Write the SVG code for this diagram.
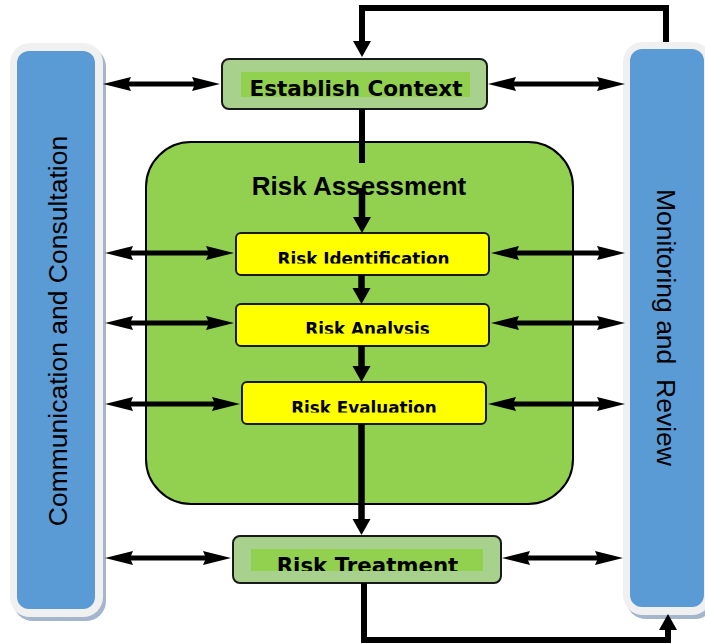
<svg xmlns="http://www.w3.org/2000/svg" width="705" height="644" viewBox="0 0 705 644">
<style>
.panelOuter{fill:#f0f0f0}
.panelShadow{fill:#a3b6cc}
.panelInner{fill:#5b9bd5}
.panelText{font-family:"Liberation Sans",Arial,sans-serif;font-size:26.5px;fill:#000}
.greenBox{fill:#a9d18e;stroke:#1a1a1a;stroke-width:2}
.greenHi{fill:#92d050}
.yellowBox{fill:#ffff00;stroke:#1a1a1a;stroke-width:2}
.boxText{font-family:"DejaVu Sans",Verdana,sans-serif;font-weight:bold;fill:#000;text-anchor:middle}
.assess{fill:#92d050;stroke:#000;stroke-width:2}
.title{font-family:"Liberation Sans",Arial,sans-serif;font-weight:bold;font-size:26px;text-anchor:middle;fill:#000}
.flow{fill:none;stroke:#000;stroke-width:6;marker-end:url(#vhead)}
.flowMid{fill:none;stroke:#000;stroke-width:6.5;marker-end:url(#vhead)}
.plain{fill:none;stroke:#000;stroke-width:6}
.dbl{fill:none;stroke:#000;stroke-width:5;marker-start:url(#hhead);marker-end:url(#hhead)}
</style>
<defs>
<marker id="vhead" markerUnits="userSpaceOnUse" viewBox="0 -10 18 20" markerWidth="18" markerHeight="20" refX="2" refY="0" orient="auto">
<path d="M0,-9 L16,0 L0,9 Z" fill="#000"/>
</marker>
<marker id="hhead" markerUnits="userSpaceOnUse" viewBox="0 -8 30 16" markerWidth="30" markerHeight="16" refX="4" refY="0" orient="auto-start-reverse">
<path d="M0,-7 L28,0 L0,7 L3,0 Z" fill="#000"/>
</marker>
<clipPath id="clipIdent"><rect x="236" y="233" width="253" height="30.5"/></clipPath>
<clipPath id="clipAnal"><rect x="236" y="304" width="253" height="29.5"/></clipPath>
<clipPath id="clipEval"><rect x="242" y="382" width="244" height="30.5"/></clipPath>
<clipPath id="clipTreat"><rect x="251" y="549" width="232" height="22"/></clipPath>
</defs>

<g id="communication-consultation">
<rect class="panelShadow" x="13" y="47" width="93" height="574" rx="20"/>
<rect class="panelOuter" x="10" y="43" width="93" height="574" rx="20"/>
<rect class="panelInner" x="17" y="51" width="78" height="558" rx="12"/>
<text class="panelText" text-anchor="middle" transform="translate(67,331) rotate(-90)">Communication and Consultation</text>
</g>

<g id="monitoring-review">
<rect class="panelShadow" x="626" y="46" width="89" height="573" rx="20"/>
<rect class="panelOuter" x="623" y="42" width="89" height="573" rx="20"/>
<rect class="panelInner" x="630" y="49" width="74" height="558" rx="12"/>
<text class="panelText" text-anchor="middle" xml:space="preserve" transform="translate(657,327.5) rotate(90)">Monitoring and  Review</text>
</g>

<g id="risk-assessment">
<rect class="assess" x="146" y="142" width="427" height="362" rx="45"/>
<text class="title" x="359" y="195">Risk Assessment</text>
</g>

<g id="establish-context">
<rect class="greenBox" x="222" y="59" width="265" height="50" rx="7"/>
<rect class="greenHi" x="241" y="72" width="229" height="25"/>
<text class="boxText" x="356" y="96" font-size="21.5">Establish Context</text>
</g>

<g id="risk-identification">
<rect class="yellowBox" x="236" y="233" width="253" height="42" rx="5"/>
<text class="boxText" x="363.5" y="264.5" font-size="16.8" clip-path="url(#clipIdent)">Risk Identification</text>
</g>

<g id="risk-analysis">
<rect class="yellowBox" x="236" y="304" width="253" height="42" rx="5"/>
<text class="boxText" x="367.5" y="335" font-size="16.8" clip-path="url(#clipAnal)">Risk Analysis</text>
</g>

<g id="risk-evaluation">
<rect class="yellowBox" x="242" y="382" width="244" height="42" rx="5"/>
<text class="boxText" x="364" y="413.5" font-size="16.8" clip-path="url(#clipEval)">Risk Evaluation</text>
</g>

<g id="risk-treatment">
<rect class="greenBox" x="233" y="536" width="268" height="47" rx="7"/>
<rect class="greenHi" x="251" y="549" width="232" height="22"/>
<text class="boxText" x="367.5" y="572.5" font-size="21.3" clip-path="url(#clipTreat)">Risk Treatment</text>
</g>

<g id="connectors">
<path class="flow" d="M666,42 V8 H362 V43"/>
<path class="plain" d="M362,109 V163"/>
<path class="flowMid" d="M362,188 V219"/>
<path class="flowMid" d="M361.5,275 V290"/>
<path class="flowMid" d="M361.5,346 V368"/>
<path class="flowMid" d="M361.5,424 V521"/>
<path class="flow" d="M364,583 V640 H668 V628"/>

<path class="dbl" d="M127,84 H196"/>
<path class="dbl" d="M512,84 H601"/>
<path class="dbl" d="M129,253 H210"/>
<path class="dbl" d="M515,253 H601"/>
<path class="dbl" d="M129,323 H210"/>
<path class="dbl" d="M515,323 H601"/>
<path class="dbl" d="M129,404 H216"/>
<path class="dbl" d="M512,404 H601"/>
<path class="dbl" d="M129,558 H207"/>
<path class="dbl" d="M526,558 H599"/>
</g>
</svg>
